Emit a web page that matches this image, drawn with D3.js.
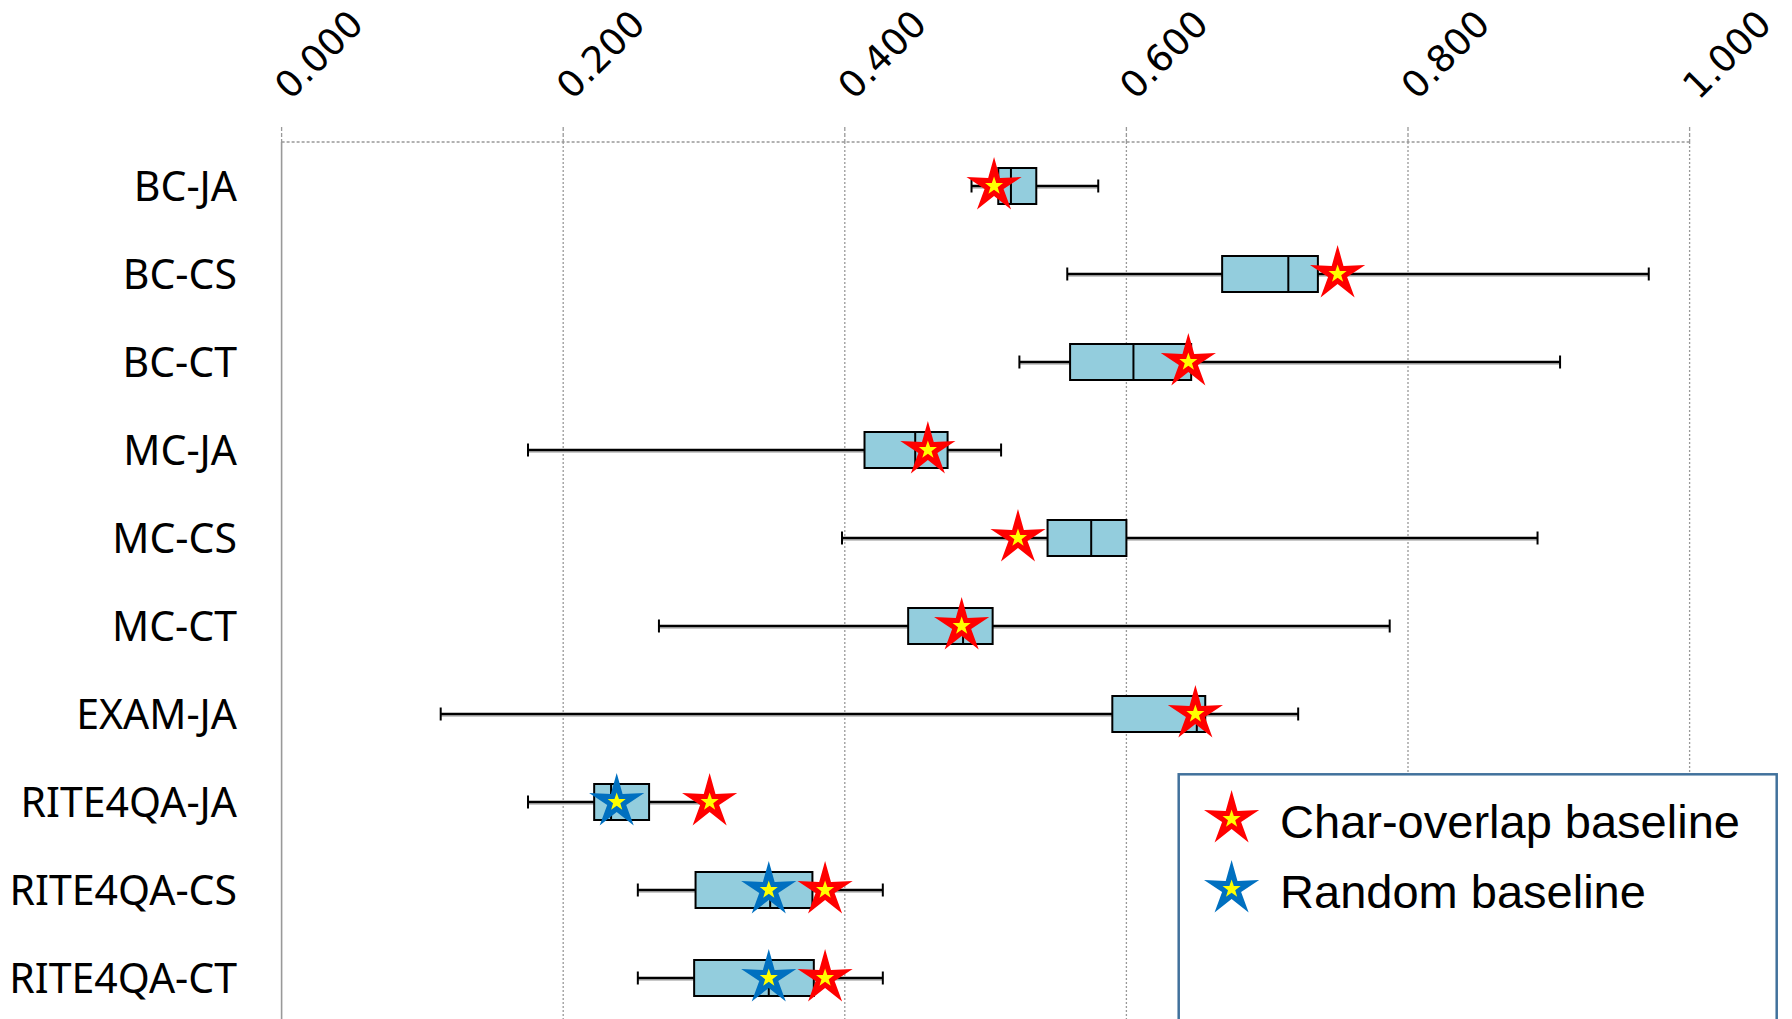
<!DOCTYPE html>
<html>
<head>
<meta charset="utf-8">
<script src="https://cdn.jsdelivr.net/npm/d3@7"></script>
<style>
  body { margin: 0; background: #fff; }
</style>
</head>
<body>
<svg></svg>
<script>
// chart data
const categories = ['BC-JA', 'BC-CS', 'BC-CT', 'MC-JA', 'MC-CS', 'MC-CT', 'EXAM-JA', 'RITE4QA-JA', 'RITE4QA-CS', 'RITE4QA-CT']
const whiskerLow  = [0.490, 0.558, 0.524, 0.175, 0.398, 0.268, 0.113, 0.175, 0.253, 0.253]
const quartile1   = [0.509, 0.668, 0.560, 0.414, 0.544, 0.445, 0.590, 0.222, 0.294, 0.293]
const medians     = [0.518, 0.715, 0.605, 0.450, 0.575, 0.484, 0.650, 0.234, 0.347, 0.346]
const quartile3   = [0.536, 0.736, 0.646, 0.473, 0.600, 0.505, 0.656, 0.261, 0.377, 0.378]
const whiskerHigh = [0.580, 0.971, 0.908, 0.511, 0.892, 0.787, 0.722, 0.298, 0.427, 0.427]
const charOverlap = [0.506, 0.750, 0.644, 0.459, 0.523, 0.483, 0.649, 0.304, 0.386, 0.386]
const randomBase  = [null, null, null, null, null, null, null, 0.238, 0.346, 0.346]
const tickValues  = [0, 0.2, 0.4, 0.6, 0.8, 1.0]
const legendLabels = ['Char-overlap baseline', 'Random baseline']

const Width = 1792
const Height = 1019
const svg = d3.select('svg').attr('width', Width).attr('height', Height)

const plotTop = 142
const x = d3.scaleLinear().domain([0, 1]).range([281.6, 1689.6])
const y = d3.scaleBand().domain(categories).range([plotTop, plotTop + 88 * categories.length])
const rowMid = c => y(c) + y.bandwidth() / 2

const rows = categories.map((c, i) => ({
  cat: c, lo: whiskerLow[i], q1: quartile1[i], med: medians[i], q3: quartile3[i], hi: whiskerHigh[i],
  red: charOverlap[i], blue: randomBase[i]
}))

// five point star path around 0,0
function starPath(R, r) {
  const pts = d3.range(10).map(k => {
    const a = -Math.PI / 2 + k * Math.PI / 5
    const rad = k % 2 === 0 ? R : r
    return [rad * Math.cos(a), rad * Math.sin(a)]
  })
  return 'M' + pts.map(p => p.join(',')).join('L') + 'Z'
}
const bigStar = starPath(29, 10)
const smallStar = starPath(9.5, 3.8)

// grid
const grid = svg.append('g')
grid.selectAll('line.v').data(tickValues.filter(v => v > 0)).enter().append('line')
  .attr('x1', d => x(d)).attr('x2', d => x(d))
  .attr('y1', plotTop).attr('y2', y.range()[1])
  .attr('stroke', '#999').attr('stroke-width', 1.3).attr('stroke-dasharray', '2,2')
grid.selectAll('line.t').data(tickValues).enter().append('line')
  .attr('x1', d => x(d)).attr('x2', d => x(d))
  .attr('y1', plotTop - 15).attr('y2', plotTop)
  .attr('stroke', '#999').attr('stroke-width', 1.3).attr('stroke-dasharray', '4,2')
grid.append('line')
  .attr('x1', x(0)).attr('x2', x(1)).attr('y1', plotTop).attr('y2', plotTop)
  .attr('stroke', '#999').attr('stroke-width', 1.5).attr('stroke-dasharray', '3,2')
grid.append('line')
  .attr('x1', x(0)).attr('x2', x(0)).attr('y1', plotTop).attr('y2', y.range()[1])
  .attr('stroke', '#999').attr('stroke-width', 1.6)

// top tick labels
svg.append('g').selectAll('text').data(tickValues).enter().append('text')
  .attr('transform', d => `translate(${x(d) + 9},101) rotate(-45)`)
  .attr('font-family', 'DejaVu Sans').attr('font-size', 37)
  .text(d => d3.format('.3f')(d))

// category labels
svg.append('g').selectAll('text').data(categories).enter().append('text')
  .attr('x', 237).attr('y', d => rowMid(d) + 14.5)
  .attr('text-anchor', 'end')
  .attr('font-family', 'Noto Sans').attr('font-size', 41)
  .text(d => d)

// boxes
const box = svg.append('g').selectAll('g').data(rows).enter().append('g')
box.append('line')
  .attr('x1', d => x(d.lo)).attr('x2', d => x(d.hi))
  .attr('y1', d => rowMid(d.cat) + 2).attr('y2', d => rowMid(d.cat) + 2)
  .attr('stroke', '#c8c8c8').attr('stroke-width', 2)
box.append('line')
  .attr('x1', d => x(d.lo)).attr('x2', d => x(d.hi))
  .attr('y1', d => rowMid(d.cat)).attr('y2', d => rowMid(d.cat))
  .attr('stroke', '#000').attr('stroke-width', 2.4)
box.selectAll('line.cap').data(d => [d.lo, d.hi].map(v => ({ v, cat: d.cat }))).enter().append('line')
  .attr('x1', d => x(d.v)).attr('x2', d => x(d.v))
  .attr('y1', d => rowMid(d.cat) - 6.5).attr('y2', d => rowMid(d.cat) + 6.5)
  .attr('stroke', '#000').attr('stroke-width', 2)
box.append('rect')
  .attr('x', d => x(d.q1)).attr('width', d => x(d.q3) - x(d.q1))
  .attr('y', d => rowMid(d.cat) - 18).attr('height', 36)
  .attr('fill', '#93cddd').attr('stroke', '#000').attr('stroke-width', 2)
box.append('line')
  .attr('x1', d => x(d.med)).attr('x2', d => x(d.med))
  .attr('y1', d => rowMid(d.cat) - 18).attr('y2', d => rowMid(d.cat) + 18)
  .attr('stroke', '#000').attr('stroke-width', 2)

// baseline stars
function drawStar(sel, color) {
  sel.append('path').attr('d', bigStar).attr('fill', color)
  sel.append('path').attr('d', smallStar).attr('fill', '#ffff00')
}
const redStars = svg.append('g').selectAll('g').data(rows).enter().append('g')
  .attr('transform', d => `translate(${x(d.red)},${rowMid(d.cat)})`)
drawStar(redStars, '#ff0000')
const blueStars = svg.append('g').selectAll('g').data(rows.filter(d => d.blue != null)).enter().append('g')
  .attr('transform', d => `translate(${x(d.blue)},${rowMid(d.cat)})`)
drawStar(blueStars, '#0070c0')

// legend
const legend = svg.append('g')
legend.append('rect')
  .attr('x', 1178.7).attr('y', 774.3).attr('width', 598).attr('height', 400)
  .attr('fill', '#fff').attr('stroke', '#41719c').attr('stroke-width', 2.5)
const legendItems = legend.selectAll('g').data(legendLabels).enter().append('g')
  .attr('transform', (d, i) => `translate(1231.6,${819 + i * 70})`)
legendItems.each(function (d, i) {
  drawStar(d3.select(this), i === 0 ? '#ff0000' : '#0070c0')
})
legendItems.append('text')
  .attr('x', 48.5).attr('y', 18.5)
  .attr('font-family', 'Liberation Sans').attr('font-size', 47)
  .text(d => d)
</script>
</body>
</html>
